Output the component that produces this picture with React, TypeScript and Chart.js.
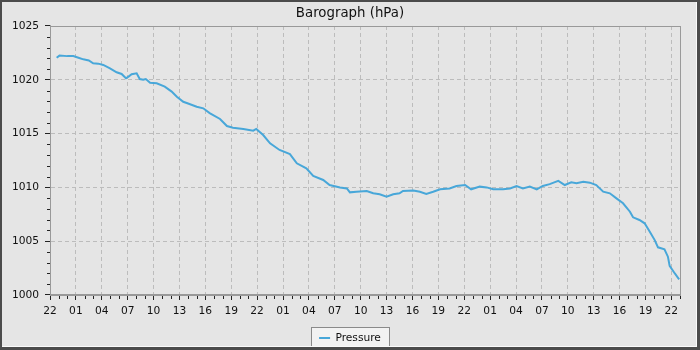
import React, { useEffect, useRef } from "react";
import { Chart, registerables } from "chart.js";

Chart.register(...registerables);

// Hours elapsed since the first axis label (22:00 on day 1)
const HOURS = [
  0.77, 1.1, 2.0, 2.7, 3.3, 3.86, 4.5, 5.0, 5.6, 6.17, 6.95, 7.72, 8.3, 8.8, 9.1,
  9.46, 10.04, 10.4, 10.8, 11.1, 11.6, 12.36, 13.3, 14.1, 14.7, 15.44, 16.0, 17.0,
  17.76, 18.5, 19.7, 20.5, 21.2, 22.4, 23.55, 23.9, 24.7, 25.5, 26.6, 27.8, 28.6,
  29.7, 30.5, 31.66, 32.4, 33.6, 34.4, 34.75, 35.5, 36.7, 37.45, 38.2, 39.0, 39.77,
  40.5, 40.9, 42.1, 42.86, 43.6, 44.4, 45.2, 46.3, 47.1, 48.1, 48.8, 49.8, 50.6,
  51.35, 52.5, 53.3, 54.06, 54.8, 55.6, 56.4, 57.1, 57.9, 58.9, 59.65, 60.4, 61.0,
  61.8, 62.55, 63.3, 64.1, 64.87, 65.6, 66.4, 67.2, 67.56, 68.3, 68.9, 69.5, 70.07,
  70.45, 71.2, 71.6, 71.8, 72.4, 72.9,
];

const PRESSURE = [
  1022.05, 1022.25, 1022.2, 1022.2, 1022.05, 1021.9, 1021.8, 1021.53, 1021.5, 1021.38,
  1021.07, 1020.7, 1020.54, 1020.14, 1020.3, 1020.51, 1020.6, 1020.07, 1020.0, 1020.07,
  1019.73, 1019.67, 1019.36, 1018.9, 1018.43, 1017.96, 1017.8, 1017.5, 1017.35, 1016.9,
  1016.36, 1015.7, 1015.55, 1015.43, 1015.27, 1015.43, 1014.87, 1014.1, 1013.48, 1013.1,
  1012.24, 1011.77, 1011.06, 1010.69, 1010.22, 1010.0, 1009.9, 1009.54, 1009.6, 1009.67,
  1009.45, 1009.36, 1009.14, 1009.36, 1009.45, 1009.67, 1009.7, 1009.6, 1009.4, 1009.6,
  1009.82, 1009.9, 1010.13, 1010.22, 1009.82, 1010.07, 1010.0, 1009.82, 1009.82, 1009.9,
  1010.13, 1009.9, 1010.07, 1009.82, 1010.13, 1010.3, 1010.6, 1010.22, 1010.47, 1010.38,
  1010.53, 1010.44, 1010.22, 1009.6, 1009.45, 1009.0, 1008.52, 1007.74, 1007.22, 1006.97,
  1006.66, 1005.88, 1005.1, 1004.43, 1004.25, 1003.56, 1002.7, 1002.0, 1001.46,
];

// Labels for every third hour, starting at hour 0
const X_TICK_LABELS = [
  "22", "01", "04", "07", "10", "13", "16", "19",
  "22", "01", "04", "07", "10", "13", "16", "19",
  "22", "01", "04", "07", "10", "13", "16", "19",
  "22",
];

const X_MIN = 0;
const X_MAX = 73;
const Y_MIN = 1000;
const Y_MAX = 1025;
const TITLE = "Barograph (hPa)";
const SERIES_NAME = "Pressure";

const FONT = "'DejaVu Sans', 'Noto Sans', sans-serif";
const LINE_COLOR = "#48a7d9";
const GRID_COLOR = "#bcbcbc";
const AXIS_COLOR = "#999999";
const TICK_COLOR = "#222222";
const TEXT_COLOR = "#111111";
const BG_COLOR = "#e5e5e5";

const decorPlugin = {
  id: "decor",
  beforeDraw(chart: any) {
    const { ctx, width, height } = chart;
    ctx.save();
    ctx.fillStyle = BG_COLOR;
    ctx.fillRect(0, 0, width, height);
    const lg = chart.legend;
    if (lg && lg.legendHitBoxes && lg.legendHitBoxes.length) {
      const hb = lg.legendHitBoxes[0];
      const x = Math.round(hb.left - 8) + 0.5;
      const y = Math.round(hb.top - 6) + 0.5;
      const w = Math.round(hb.width + 16);
      const h = 21;
      ctx.fillStyle = "#f2f2f2";
      ctx.fillRect(x, y, w, h);
      ctx.strokeStyle = "#8a8a8a";
      ctx.lineWidth = 1;
      ctx.strokeRect(x, y, w, h);
    }
    ctx.restore();
  },
  beforeDatasetsDraw(chart: any) {
    const { ctx, chartArea } = chart;
    const l = Math.round(chartArea.left);
    const r = Math.round(chartArea.right);
    const t = Math.round(chartArea.top);
    const b = Math.round(chartArea.bottom);
    ctx.save();
    ctx.strokeStyle = AXIS_COLOR;
    ctx.lineWidth = 1;
    ctx.strokeRect(l + 0.5, t + 0.5, r - l, b - t);
    // minor tick marks
    ctx.strokeStyle = TICK_COLOR;
    ctx.beginPath();
    const xs = chart.scales.x;
    xs.ticks.forEach((tk: any, i: number) => {
      if (tk.value % 3 !== 0) {
        const px = Math.round(xs.getPixelForTick(i)) + 0.5;
        ctx.moveTo(px, b + 1);
        ctx.lineTo(px, b + 4);
      }
    });
    const ys = chart.scales.y;
    ys.ticks.forEach((tk: any, i: number) => {
      if (tk.value % 5 !== 0) {
        const py = Math.round(ys.getPixelForTick(i)) + 0.5;
        ctx.moveTo(l - 3, py);
        ctx.lineTo(l, py);
      }
    });
    ctx.stroke();
    ctx.restore();
  },
  afterDraw(chart: any) {
    const { ctx, width, height } = chart;
    ctx.save();
    ctx.fillStyle = "#4b4b4b";
    ctx.fillRect(0, 0, width, 2);
    ctx.fillRect(0, 0, 2, height);
    ctx.fillRect(width - 3, 0, 3, height);
    ctx.fillRect(0, height - 3, width, 3);
    ctx.fillStyle = "#fafafa";
    ctx.fillRect(width - 4, 2, 1, height - 5);
    ctx.fillRect(2, height - 4, width - 6, 1);
    ctx.restore();
  },
};

export default function App() {
  const ref = useRef<HTMLCanvasElement | null>(null);

  useEffect(() => {
    if (!ref.current) return;
    const data = HOURS.map((h, i) => ({ x: h, y: PRESSURE[i] }));
    const chart = new Chart(ref.current, {
      type: "line",
      data: {
        datasets: [
          {
            label: SERIES_NAME,
            data,
            borderColor: LINE_COLOR,
            backgroundColor: LINE_COLOR,
            borderWidth: 2,
            pointRadius: 0,
            tension: 0,
            yAxisID: "y",
          },
        ],
      },
      options: {
        animation: false,
        responsive: false,
        devicePixelRatio: 1,
        layout: { padding: { left: 0, right: 0, top: 0, bottom: -3.33 } },
        plugins: {
          title: {
            display: true,
            text: TITLE,
            color: TEXT_COLOR,
            font: { family: FONT, size: 13.33, weight: "normal", lineHeight: 1.2 },
            padding: { top: 6, bottom: 4 },
          },
          legend: {
            display: true,
            position: "bottom",
            labels: {
              color: TEXT_COLOR,
              font: { family: FONT, size: 10.67 },
              usePointStyle: true,
              pointStyle: "line",
              pointStyleWidth: 11,
              padding: 10,
            },
          },
          tooltip: { enabled: false },
        },
        scales: {
          x: {
            type: "linear",
            min: X_MIN,
            max: X_MAX,
            afterFit: (s: any) => {
              s.height = 27.67;
            },
            ticks: {
              stepSize: 1,
              autoSkip: false,
              maxRotation: 0,
              minRotation: 0,
              padding: 5,
              color: TEXT_COLOR,
              font: { family: FONT, size: 10.67 },
              callback: (v: any) =>
                Number(v) % 3 === 0 ? X_TICK_LABELS[Number(v) / 3] ?? "" : "",
            },
            grid: {
              color: (c: any) =>
                c.tick && c.tick.value % 3 === 0 && c.tick.value > X_MIN ? GRID_COLOR : "transparent",
              lineWidth: 1,
              drawTicks: true,
              tickLength: 5,
              tickColor: (c: any) =>
                c.tick && c.tick.value % 3 === 0 ? TICK_COLOR : "transparent",
            },
            border: { display: true, color: AXIS_COLOR, dash: [4, 3] },
          },
          y: {
            type: "linear",
            position: "left",
            min: Y_MIN,
            max: Y_MAX,
            afterFit: (s: any) => {
              s.width = 50;
            },
            ticks: {
              stepSize: 1,
              autoSkip: false,
              padding: 6,
              color: TEXT_COLOR,
              font: { family: FONT, size: 10.67 },
              callback: (v: any) => (Number(v) % 5 === 0 ? String(v) : ""),
            },
            grid: {
              color: (c: any) =>
                c.tick && c.tick.value % 5 === 0 && c.tick.value > Y_MIN && c.tick.value < Y_MAX
                  ? GRID_COLOR
                  : "transparent",
              lineWidth: 1,
              drawTicks: true,
              tickLength: 5,
              tickColor: (c: any) =>
                c.tick && c.tick.value % 5 === 0 ? TICK_COLOR : "transparent",
            },
            border: { display: true, color: AXIS_COLOR, dash: [4, 3] },
          },
          yR: {
            type: "linear",
            position: "right",
            display: true,
            afterFit: (s: any) => {
              s.width = 20;
            },
            ticks: { display: false },
            grid: { display: false, drawTicks: false },
            border: { display: false },
          },
        },
      },
      plugins: [decorPlugin],
    } as any);
    return () => chart.destroy();
  }, []);

  return (
    <div style={{ position: "fixed", left: 0, top: 0, width: 700, height: 350 }}>
      <canvas ref={ref} width={700} height={350} style={{ display: "block" }} />
    </div>
  );
}
